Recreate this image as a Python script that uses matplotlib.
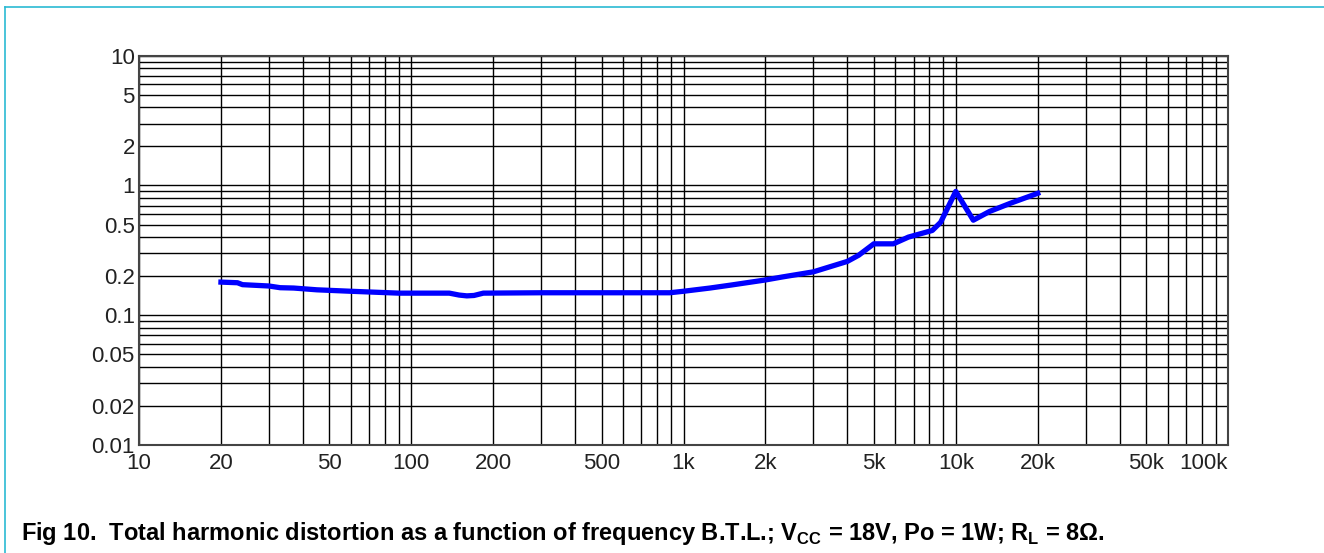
import numpy as np
import matplotlib
matplotlib.use("Agg")
import matplotlib.pyplot as plt
from matplotlib.lines import Line2D
from matplotlib.ticker import FixedLocator, LogLocator, NullFormatter

plt.rcParams['font.family'] = ['Liberation Sans', 'DejaVu Sans']
plt.rcParams['mathtext.fontset'] = 'custom'
plt.rcParams['mathtext.rm'] = 'Liberation Sans'
plt.rcParams['mathtext.bf'] = 'Liberation Sans:bold'

# THD vs frequency
freq = [20, 23, 24, 30, 33, 37, 45, 60, 90, 138, 150, 160, 170, 184,
        300, 500, 890, 1000, 1250, 1500, 2000, 2300, 3000, 4000, 4400,
        5000, 5900, 6700, 8200, 8800, 10000, 11600, 13300, 15900, 20000]
thd = [0.180, 0.178, 0.172, 0.168, 0.163, 0.162, 0.157, 0.153, 0.148, 0.148,
       0.143, 0.141, 0.142, 0.148, 0.149, 0.149, 0.149, 0.153, 0.162, 0.171,
       0.187, 0.197, 0.216, 0.260, 0.290, 0.355, 0.355, 0.400, 0.450, 0.520,
       0.900, 0.540, 0.630, 0.730, 0.870]

x_ticks = [10, 20, 50, 100, 200, 500, 1e3, 2e3, 5e3, 1e4, 2e4, 5e4, 1e5]
x_labels = ['10', '20', '50', '100', '200', '500', '1k', '2k', '5k',
            '10k', '20k', '50k', '100k']
y_ticks = [0.01, 0.02, 0.05, 0.1, 0.2, 0.5, 1, 2, 5, 10]
y_labels = ['0.01', '0.02', '0.05', '0.1', '0.2', '0.5', '1', '2', '5', '10']

fig = plt.figure(figsize=(13.24, 5.53), dpi=100)
ax = fig.add_axes([139 / 1324, 1 - 445 / 553, (1228 - 139) / 1324, (445 - 55.7) / 553])

ax.set_xscale('log')
ax.set_yscale('log')
ax.set_xlim(10, 1e5)
ax.set_ylim(0.01, 10)

ax.xaxis.set_major_locator(FixedLocator(x_ticks))
ax.xaxis.set_minor_locator(LogLocator(base=10, subs=np.arange(1, 10)))
ax.xaxis.set_minor_formatter(NullFormatter())
ax.set_xticks(x_ticks, x_labels)
ax.yaxis.set_major_locator(FixedLocator(y_ticks))
ax.yaxis.set_minor_locator(LogLocator(base=10, subs=np.arange(1, 10)))
ax.yaxis.set_minor_formatter(NullFormatter())
ax.set_yticks(y_ticks, y_labels)

ax.grid(True, which='both', color='black', linewidth=1.0)
ax.tick_params(which='both', length=0, labelsize=16, labelcolor='#222222')
ax.tick_params(axis='x', pad=6)
ax.tick_params(axis='y', pad=3)
ax.get_xticklabels()[-1].set_horizontalalignment('right')
for s in ax.spines.values():
    s.set_color('#444444')
    s.set_linewidth(1.5)

ax.plot(freq, thd, color='#0000ff', linewidth=3.8, solid_joinstyle='round', zorder=3)

fig.text(21 / 1324, 1 - 540 / 553,
         r'Fig 10.  Total harmonic distortion as a function of frequency B.T.L.; '
         r'V$_{\mathbf{CC}}$ = 18V, Po = 1W; R$_{\mathbf{L}}$ = 8Ω.',
         fontsize=17, fontweight='bold', color='black', va='baseline')

# cyan frame lines of the document page
fig.add_artist(Line2D([4.5 / 1324, 1], [1 - 7 / 553, 1 - 7 / 553],
                      color='#2bbad3', linewidth=1.2))
fig.add_artist(Line2D([4.5 / 1324, 4.5 / 1324], [0, 1 - 7 / 553],
                      color='#2bbad3', linewidth=1.2))

fig.savefig('out.png', dpi=100)
